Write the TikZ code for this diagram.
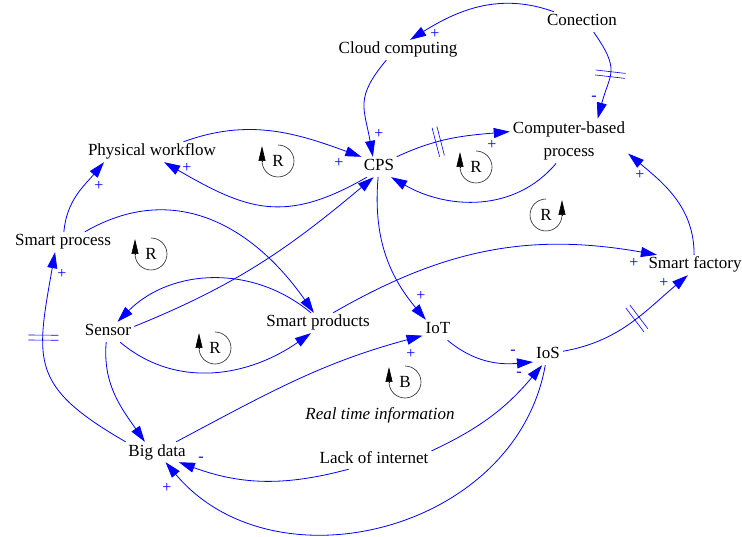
\documentclass[tikz,border=0pt]{standalone}
\usepackage{fontspec}
\setmainfont{Liberation Serif}
\usetikzlibrary{arrows.meta, decorations.markings}

\begin{document}
\begin{tikzpicture}[x=1pt, y=1pt,
        var/.style={font=\fontsize{17}{20}\selectfont, inner sep=3pt, text height=11pt, text depth=3pt},
        link/.style={blue, line width=0.8pt, -{Triangle[length=16pt, width=10pt]}},
        sign/.style={blue, font=\fontsize{16}{18}\selectfont, inner sep=0pt},
        looplabel/.style={font=\fontsize{17}{20}\selectfont, inner sep=0pt},
        loopline/.style={black!85, line width=0.6pt},
        looptip/.style={black, line width=0.6pt, -{Triangle[length=15pt, width=7pt]}},
        delaybar/.style={postaction={decorate, decoration={markings, mark=at position #1 with {\draw[blue, line width=0.6pt, -] (-2.5pt,-15pt) -- (-2.5pt,15pt) (2.5pt,-15pt) -- (2.5pt,15pt);}}}}
    ]

        \useasboundingbox (0,0) rectangle (742,-537);

        % variables
        \node[var] (conn) at (582,-22) {Conection};
        \node[var] (cloud) at (398,-50) {Cloud computing};
        \node[var] (pw) at (152,-152) {Physical workflow};
        \node[var] (cps) at (379,-167) {CPS};
        \node[font=\fontsize{17}{23}\selectfont, inner sep=3pt, align=center] (cbp) at (569,-141) {Computer-based\\process};
        \node[var] (sp) at (63,-242) {Smart process};
        \node[var] (sf) at (695,-265) {Smart factory};
        \node[var] (sen) at (108,-332) {Sensor};
        \node[var] (spr) at (318,-323) {Smart products};
        \node[var] (iot) at (438,-330) {IoT};
        \node[var] (ios) at (548,-355) {IoS};
        \node[var] (bd) at (157,-452) {Big data};
        \node[var] (lack) at (374,-459) {Lack of internet};
        \node[var, font=\fontsize{17}{20}\selectfont\itshape] (rti) at (380,-415) {Real time information};

        % links
        \draw[link] (conn.160) to[out=160, in=32] (cloud.40);
        \draw[link, delaybar=0.5] (conn.-41) to[out=-55, in=75, looseness=1.4] (cbp.38);
        \draw[link] (cloud.-139) to[out=-130, in=100, looseness=1.3] (cps.121);
        \draw[link] (pw.18) to[out=20, in=160] (cps.150);
        \draw[link] (cps.-140) to[out=-150, in=-30, looseness=1.2] (pw.-40);
        \draw[link, delaybar=0.38] (cps.30) to[out=25, in=185] (cbp.171);
        \draw[link] (cbp.-120) to[out=-130, in=-30] (cps.-40);
        \draw[link] (sf.95) to[out=90, in=-40] (cbp.-12);
        \draw[link] (sp.85) to[out=85, in=-130] (pw.-168);
        \draw[link] (sp.25) to[out=30, in=125, looseness=1.1] (spr.112);
        \draw[link] (sen.12) to[out=22, in=220] (cps.-118);
        \draw[link] (spr.125) to[out=140, in=45] (sen.47);
        \draw[link] (sen.-40) to[out=-40, in=215] (spr.-125);
        \draw[link] (sen.-100) to[out=-95, in=125] (bd.140);
        \draw[link, delaybar=0.62] (bd.162) to[out=150, in=-100, looseness=1.4] (sp.-128);
        \draw[link] (cps.-95) to[out=-95, in=130] (iot.140);
        \draw[link] (bd.28) to[out=28, in=195] (iot.-160);
        \draw[link] (iot.-47) to[out=-40, in=185] (ios.-155);
        \draw[link] (lack.8) to[out=25, in=-130] (ios.-120);
        \draw[link] (lack.-158) to[out=-165, in=-20] (bd.-25);
        \draw[link] (ios.-105) to[out=-100, in=-50, looseness=1.1] (bd.-50);
        \draw[link, delaybar=0.55] (ios.14) to[out=10, in=-140] (sf.-125);
        \draw[link] (spr.34) to[out=30, in=170] (sf.165);

        % polarities
        \foreach \x/\y/\s [count=\i] in {435/34/+, 594/98/-, 379/134/+, 339/163/+, 187/168/+, 492/145/+,
                640/175/+, 99/186/+, 62/274/+, 421/296/+, 411/354/+, 513/352/-, 519/374/-,
                201/459/-, 167/488/+, 664/283/+, 634/263/+}
            \node[sign] (sign\i) at (\x,-\y) {\s};

        % loops
        \foreach \x/\y/\t [count=\i] in {278/161/R, 476/167/R, 151/254/R, 215/348/R, 405/382/B} {
            \node[looplabel] (loop\i) at (\x,-\y) {\t};
            \draw[loopline] ([yshift=16pt]loop\i.center) arc[start angle=90, end angle=-180, radius=16pt];
            \draw[looptip] ([xshift=-16pt]loop\i.center) -- ++(0,15pt);
        }
        \node[looplabel] (loop6) at (546,-215) {R};
        \draw[loopline] ([yshift=16pt]loop6.center) arc[start angle=90, end angle=360, radius=16pt];
        \draw[looptip] ([xshift=16pt]loop6.center) -- ++(0,15pt);

    \end{tikzpicture}
\end{document}
